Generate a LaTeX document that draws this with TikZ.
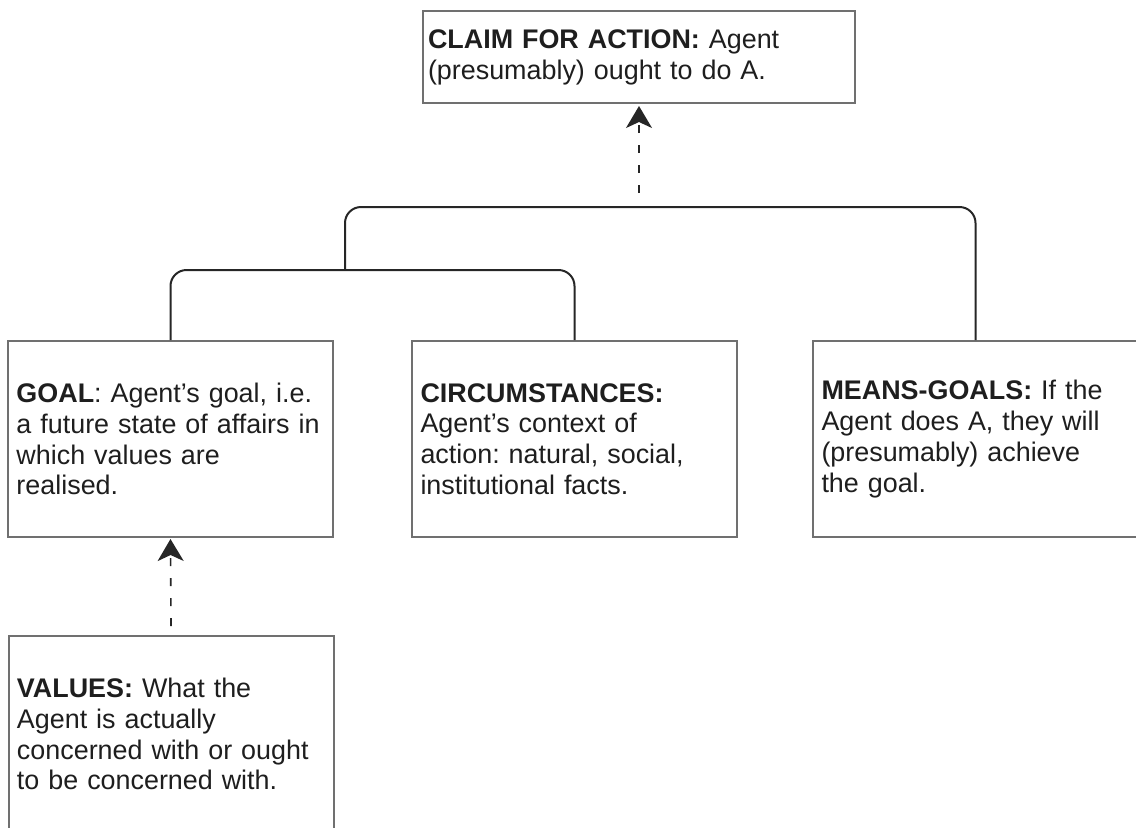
\documentclass[tikz,border=0pt]{standalone}
\usepackage{fontspec}
\setmainfont{Liberation Sans}
\usetikzlibrary{arrows.meta}
\definecolor{ink}{HTML}{1E1E1E}
\definecolor{frame}{HTML}{707070}
\definecolor{wire}{HTML}{262626}
\begin{document}
\frenchspacing
\begin{tikzpicture}[x=0.5pt,y=-0.5pt,
  box/.style={draw=frame, line width=1pt, rectangle,
    minimum width=162.5pt, minimum height=98pt,
    inner xsep=4.25pt, inner ysep=0pt, text width=154pt, align=left,
    text=ink, font=\fontsize{13.45pt}{15.4pt}\selectfont},
  claimbox/.style={box, minimum width=216pt, minimum height=46pt,
    inner xsep=2.5pt, text width=211pt},
  bracket/.style={draw=wire, line width=1pt, rounded corners=8pt},
  support/.style={draw=wire, line width=0.8pt, dash pattern=on 4pt off 6pt,
    -{Stealth[length=11pt,width=13pt,inset=3pt]}}
]
\useasboundingbox (0,0) rectangle (1136,827);
\clip (0,0) rectangle (1136,827);

% claim at the top
\node[claimbox] (claim) at (639,57)
  {\textbf{CLAIM FOR ACTION:} Agent\\ (presumably) ought to do A.};

% the three premises
\node[box] (goal) at (170.5,439)
  {\textbf{GOAL}: Agent’s goal, i.e.\\ a future state of affairs in\\ which values are\\ realised.};
\node[box] (circ) at (574.5,439)
  {\textbf{CIRCUMSTANCES:}\\ Agent’s context of\\ action: natural, social,\\ institutional facts.};
\node[box] (means) at (975.5,439)
  {\textbf{MEANS-GOALS:} If the\\ Agent does A, they will\\ (presumably) achieve\\ the goal.};

% values underneath the goal
\node[box] (values) at (171,734)
  {\textbf{VALUES:} What the\\ Agent is actually\\ concerned with or ought\\ to be concerned with.};

% brackets joining the premises
\coordinate (lj) at (345,270);
\coordinate (tj) at (639,207);
\draw[bracket] (goal.north) |- (lj) -| (circ.north);
\draw[bracket] (lj) |- (tj) -| (means.north);

% support arrows
\draw[support] ([yshift=7pt]tj) -- ([yshift=-1pt]claim.south);
\draw[support] ([yshift=4.5pt]values.north) -- ([yshift=-0.5pt]goal.south);
\end{tikzpicture}
\end{document}
